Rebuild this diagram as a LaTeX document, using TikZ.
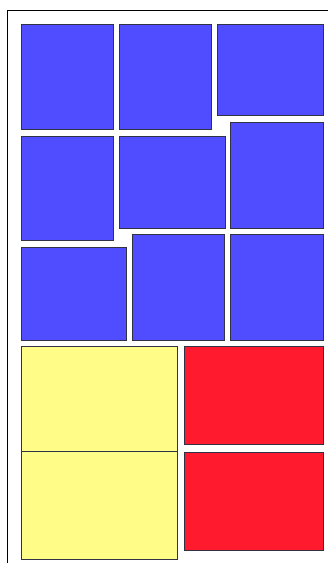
\documentclass[tikz,border=0pt]{standalone}
\usepackage{tikz}
\usepackage{xcolor}

\definecolor{tileblue}{RGB}{80,76,255}
\definecolor{tileyellow}{RGB}{255,252,136}
\definecolor{tilered}{RGB}{255,26,46}
\definecolor{tileedge}{RGB}{50,50,70}

\tikzset{
    tile/.style={draw=tileedge, line width=1pt},
    bluetile/.style={tile, fill=tileblue},
    yellowtile/.style={tile, fill=tileyellow},
    redtile/.style={tile, fill=tilered},
}

\begin{document}
\begin{tikzpicture}[x=1pt,y=-1pt]
    \useasboundingbox (0,0) rectangle (328,563);
    % frame
    \coordinate (fbottom) at (7,563);
    \coordinate (fcorner) at (7,10.5);
    \coordinate (fright) at (328,10.5);
    \draw[line width=1pt] (fbottom) -- (fcorner) -- (fright);
    % blue tiles
    \draw[bluetile] (21,24) rectangle (113,129);
    \draw[bluetile] (119,24) rectangle (211,129);
    \draw[bluetile] (217,24) rectangle (323,115);
    \draw[bluetile] (21,136) rectangle (113,240);
    \draw[bluetile] (119,136) rectangle (225,228);
    \draw[bluetile] (230,122) rectangle (323,228);
    \draw[bluetile] (21,247) rectangle (126,340);
    \draw[bluetile] (132,234) rectangle (224,340);
    \draw[bluetile] (230,234) rectangle (323,340);
    % yellow and red tiles
    \draw[yellowtile] (21,346) rectangle (177,451);
    \draw[yellowtile] (21,451) rectangle (177,559);
    \draw[redtile] (184,346) rectangle (323,444);
    \draw[redtile] (184,452) rectangle (323,550);
\end{tikzpicture}
\end{document}
